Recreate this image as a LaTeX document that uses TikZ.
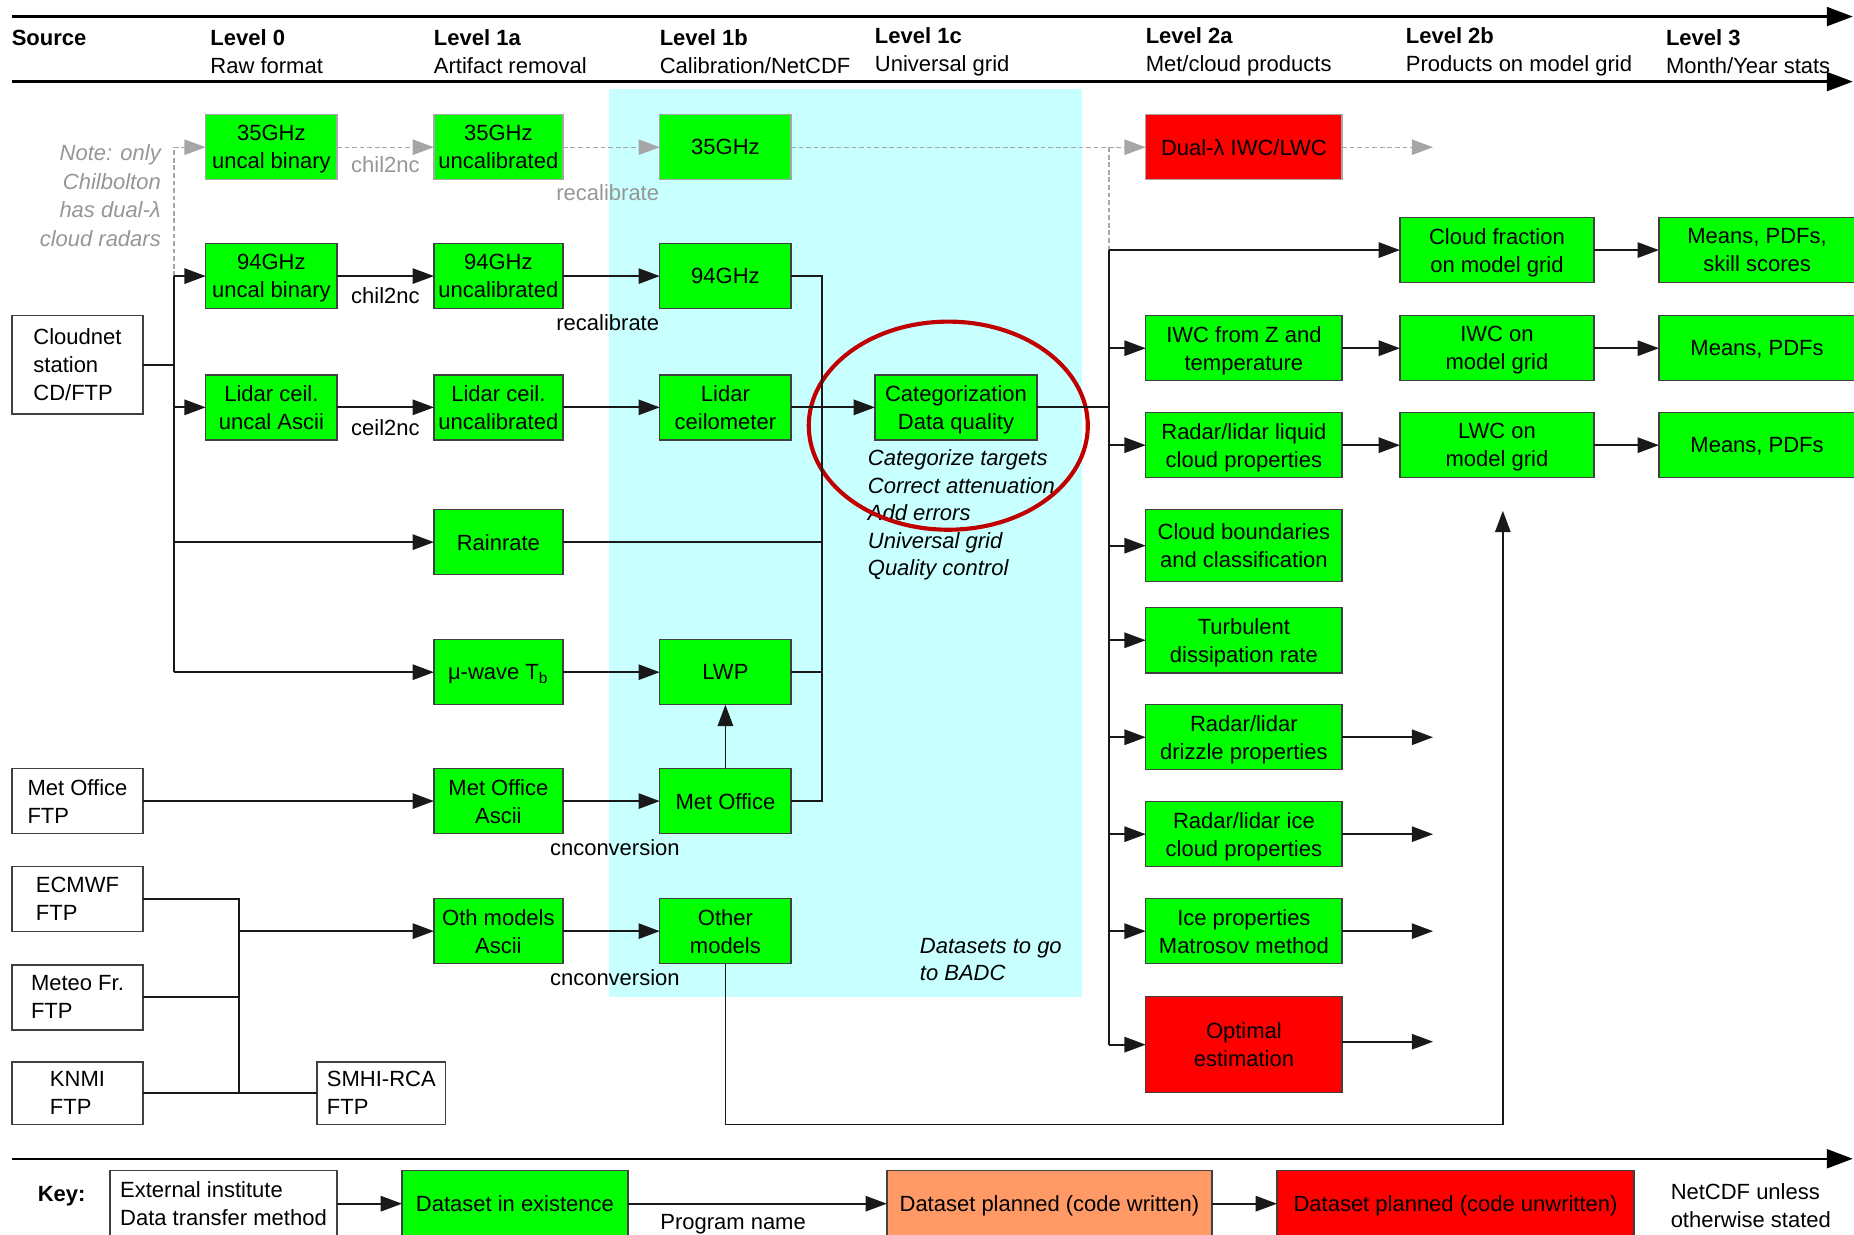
\documentclass[tikz,border=0pt]{standalone}
\usepackage{fontspec}
\setmainfont{Liberation Sans}
\usetikzlibrary{arrows.meta,calc}
\definecolor{bgreen}{RGB}{0,255,0}
\definecolor{bred}{RGB}{255,0,0}
\definecolor{borange}{RGB}{255,153,102}
\definecolor{cyanbg}{RGB}{200,255,255}
\definecolor{ellred}{RGB}{192,0,0}
\definecolor{notegray}{RGB}{150,150,150}
\newcommand\mybox[6]{\node[#1, minimum width=(#5-#3)*0.5pt, minimum height=(#6-#4)*0.5pt] (#2) at ({(#3+#5)/2},{(#4+#6)/2})}
\begin{document}
\begin{tikzpicture}[x=0.5pt,y=-0.5pt,
  every node/.style={font=\fontsize{9.3}{11.8}\selectfont, inner sep=0pt, outer sep=0pt},
  box/.style={draw=black!75, line width=0.6pt, align=center, text depth=0pt},
  gbox/.style={box, fill=bgreen},
  ggbox/.style={box, fill=bgreen, draw=black!35},
  rbox/.style={box, fill=bred},
  grbox/.style={box, fill=bred, draw=black!35},
  obox/.style={box, fill=borange},
  wbox/.style={box, fill=white, align=left},
  ln/.style={line width=0.75pt, draw=black!90},
  arr/.style={ln, -{Triangle[length=9pt,width=6.5pt]}},
  gln/.style={line width=0.6pt, draw=black!35, dash pattern=on 2pt off 1.2pt},
  garr/.style={gln, -{Triangle[length=9pt,width=6.5pt]}},
  hline/.style={line width=1pt, -{Triangle[length=11pt,width=8pt]}},
  glbl/.style={text=notegray},
  hdr/.style={anchor=west, align=left},
]
\useasboundingbox (0,0) rectangle (1568,1044);
\clip (0,0) rectangle (1568,1044);

% background region
\fill[cyanbg] (515,75) rectangle (915,843);

% header
\coordinate (h1s) at (10,14);  \coordinate (h1e) at (1567,14);
\coordinate (h2s) at (10,69);  \coordinate (h2e) at (1567,69);
\coordinate (h3s) at (10,980); \coordinate (h3e) at (1567,980);
\draw[hline] (h1s) -- (h1e);
\draw[hline] (h2s) -- (h2e);
\draw[hline] (h3s) -- (h3e);

\node[hdr] (hsrc) at (10,32) {\textbf{Source}};
\node[hdr] (hl0) at (178,43.5) {\textbf{Level 0}\\Raw format};
\node[hdr] (hl1a) at (367,43.5) {\textbf{Level 1a}\\Artifact removal};
\node[hdr] (hl1b) at (558,43.5) {\textbf{Level 1b}\\Calibration/NetCDF};
\node[hdr] (hl1c) at (740,43.5) {\textbf{Level 1c}\\Universal grid};
\node[hdr] (hl2a) at (969,43.5) {\textbf{Level 2a}\\Met/cloud products};
\node[hdr] (hl2b) at (1189,43.5) {\textbf{Level 2b}\\Products on model grid};
\node[hdr] (hl3) at (1409,43.5) {\textbf{Level 3}\\Month/Year stats};

% sources
\mybox{wbox}{cloudnet}{10}{267}{121}{350} {Cloudnet\\station\\CD/FTP};
\mybox{wbox}{mofp}{10}{650}{121}{705} {Met Office\\FTP};
\mybox{wbox}{ecmwf}{10}{733}{121}{788} {ECMWF\\FTP};
\mybox{wbox}{meteo}{10}{816}{121}{871} {Meteo Fr.\\FTP};
\mybox{wbox}{knmi}{10}{898}{121}{951} {KNMI\\FTP};
\mybox{wbox}{smhi}{268}{898}{377}{951} {SMHI-RCA\\FTP};

% level 0 / 1a / 1b
\mybox{ggbox}{a35}{174}{97}{285}{152} {35GHz\\uncal binary};
\mybox{ggbox}{b35}{367}{97}{476}{152} {35GHz\\uncalibrated};
\mybox{ggbox}{c35}{558}{97}{669}{152} {35GHz};
\mybox{grbox}{dual}{969}{97}{1135}{152} {Dual-λ IWC/LWC};
\mybox{gbox}{a94}{174}{206}{285}{261} {94GHz\\uncal binary};
\mybox{gbox}{b94}{367}{206}{476}{261} {94GHz\\uncalibrated};
\mybox{gbox}{c94}{558}{206}{669}{261} {94GHz};
\mybox{gbox}{aL}{174}{317}{285}{372} {Lidar ceil.\\uncal Ascii};
\mybox{gbox}{bL}{367}{317}{476}{372} {Lidar ceil.\\uncalibrated};
\mybox{gbox}{cL}{558}{317}{669}{372} {Lidar\\ceilometer};
\mybox{gbox}{cat}{740}{317}{877}{372} {Categorization\\Data quality};
\mybox{gbox}{rain}{367}{431}{476}{486} {Rainrate};
\mybox{gbox}{mw}{367}{541}{476}{596} {μ-wave T\textsubscript{b}};
\mybox{gbox}{lwp}{558}{541}{669}{596} {LWP};
\mybox{gbox}{moA}{367}{650}{476}{705} {Met Office\\Ascii};
\mybox{gbox}{mo}{558}{650}{669}{705} {Met Office};
\mybox{gbox}{othA}{367}{760}{476}{815} {Oth models\\Ascii};
\mybox{gbox}{oth}{558}{760}{669}{815} {Other\\models};

% level 2a
\mybox{gbox}{iwcz}{969}{267}{1135}{322} {IWC from Z and\\temperature};
\mybox{gbox}{liq}{969}{349}{1135}{404} {Radar/lidar liquid\\cloud properties};
\mybox{gbox}{cbd}{969}{431}{1135}{492} {Cloud boundaries\\and classification};
\mybox{gbox}{turb}{969}{514}{1135}{569} {Turbulent\\dissipation rate};
\mybox{gbox}{drz}{969}{596}{1135}{651} {Radar/lidar\\drizzle properties};
\mybox{gbox}{ice}{969}{678}{1135}{733} {Radar/lidar ice\\cloud properties};
\mybox{gbox}{mat}{969}{760}{1135}{815} {Ice properties\\Matrosov method};
\mybox{rbox}{opt}{969}{843}{1135}{924} {Optimal\\estimation};

% level 2b / 3
\mybox{gbox}{cf}{1184}{184}{1348}{239} {Cloud fraction\\on model grid};
\mybox{gbox}{iwcm}{1184}{267}{1348}{322} {IWC on\\model grid};
\mybox{gbox}{lwcm}{1184}{349}{1348}{404} {LWC on\\model grid};
\mybox{gbox}{m1}{1403}{184}{1569}{239} {Means, PDFs,\\skill scores};
\mybox{gbox}{m2}{1403}{267}{1569}{322} {Means, PDFs};
\mybox{gbox}{m3}{1403}{349}{1569}{404} {Means, PDFs};

% annotations
\node[anchor=east, align=right, glbl, font=\itshape\fontsize{9.3}{12.15}\selectfont] (note) at (136,165.5) {Note: only\\Chilbolton\\has dual-λ\\cloud radars};
\node[anchor=west, align=left, font=\itshape\fontsize{9.3}{11.65}\selectfont] (catnote) at (734,435.5) {Categorize targets\\Correct attenuation\\Add errors\\Universal grid\\Quality control};
\node[anchor=west, align=left, font=\itshape\fontsize{9.3}{11.65}\selectfont] (badc) at (778,811.5) {Datasets to go\\to BADC};
\draw[ellred, line width=1.75pt] (802,360) ellipse [x radius=59pt, y radius=44pt];

% coordinates for trunks
\coordinate (tA) at (147,0);
\coordinate (tB) at (695,0);
\coordinate (tC) at (938,0);
\coordinate (tD) at (202,0);
\coordinate (dualend) at (1212,124.5);
\coordinate (drzend) at (1212,623.5);
\coordinate (iceend) at (1212,705.5);
\coordinate (matend) at (1212,787.5);
\coordinate (optend) at (1212,881);
\coordinate (omturn) at (1271,951);
\coordinate (omend) at (1271,432);

% Cloudnet station distribution
\draw[ln] (cloudnet.east) -- (cloudnet.east -| tA);
\draw[ln] (a94.west -| tA) -- (mw.west -| tA);
\draw[gln] (a94.west -| tA) -- (a35.west -| tA);
\draw[garr] (a35.west -| tA) -- (a35.west);
\draw[arr] (a94.west -| tA) -- (a94.west);
\draw[arr] (aL.west -| tA) -- (aL.west);
\draw[arr] (rain.west -| tA) -- (rain.west);
\draw[arr] (mw.west -| tA) -- (mw.west);

% 35GHz row
\draw[garr] (a35) -- node[glbl, below=4pt] (l1) {chil2nc} (b35);
\draw[garr] (b35) -- (c35);
\node[glbl] (l2) at (514,163) {recalibrate};
\draw[garr] (c35) -- (dual);
\draw[garr] (dual) -- (dualend);
\draw[gln] (dual.west -| tC) -- (cf.west -| tC);

% 94GHz and lidar rows
\draw[arr] (a94) -- node[below=5pt] (l3) {chil2nc} (b94);
\draw[arr] (b94) -- (c94);
\node (l4) at (514,273) {recalibrate};
\draw[arr] (aL) -- node[below=5pt] (l5) {ceil2nc} (bL);
\draw[arr] (bL) -- (cL);
\draw[arr] (cL) -- (cat);

% collector into categorization
\draw[ln] (c94.east) -- (c94.east -| tB) -- (mo.east -| tB) -- (mo.east);
\draw[ln] (rain.east) -- (rain.east -| tB);
\draw[ln] (lwp.east) -- (lwp.east -| tB);

% LWP / models
\draw[arr] (mw) -- (lwp);
\draw[arr] (mofp) -- (moA);
\draw[arr] (moA) -- (mo);
\node (l6) at (520,717) {cnconversion};
\draw[arr] (mo) -- (lwp);
\draw[ln] (ecmwf.east) -- (ecmwf.east -| tD) -- (knmi.east -| tD);
\draw[ln] (meteo.east) -- (meteo.east -| tD);
\draw[ln] (knmi.east) -- (smhi.west);
\draw[arr] (othA.west -| tD) -- (othA.west);
\draw[arr] (othA) -- (oth);
\node (l7) at (520,827) {cnconversion};
\draw[arr] (oth.south) |- (omturn) -- (omend);

% categorization to level 2
\draw[ln] (cat.east) -- (cat.east -| tC);
\draw[ln] (cf.west -| tC) -- (opt.west -| tC);
\draw[arr] (cf.west -| tC) -- (cf.west);
\draw[arr] (iwcz.west -| tC) -- (iwcz.west);
\draw[arr] (liq.west -| tC) -- (liq.west);
\draw[arr] (cbd.west -| tC) -- (cbd.west);
\draw[arr] (turb.west -| tC) -- (turb.west);
\draw[arr] (drz.west -| tC) -- (drz.west);
\draw[arr] (ice.west -| tC) -- (ice.west);
\draw[arr] (mat.west -| tC) -- (mat.west);
\draw[arr] (opt.west -| tC) -- (opt.west);

\draw[arr] (iwcz) -- (iwcm);
\draw[arr] (liq) -- (lwcm);
\draw[arr] (cf) -- (m1);
\draw[arr] (iwcm) -- (m2);
\draw[arr] (lwcm) -- (m3);
\draw[arr] (drz) -- (drzend);
\draw[arr] (ice) -- (iceend);
\draw[arr] (mat) -- (matend);
\draw[arr] (opt.east |- optend) -- (optend);

% key
\node[anchor=west] (key) at (32,1012) {\textbf{Key:}};
\mybox{wbox}{kext}{93}{990}{285}{1046} {External institute\\Data transfer method};
\mybox{gbox}{kgr}{340}{990}{531}{1046} {Dataset in existence};
\mybox{obox}{kor}{750}{990}{1025}{1046} {Dataset planned (code written)};
\mybox{rbox}{krd}{1080}{990}{1382}{1046} {Dataset planned (code unwritten)};
\draw[arr] (kext) -- (kgr);
\draw[arr] (kgr) -- (kor);
\node (kprog) at (620,1035) {Program name};
\draw[arr] (kor) -- (krd);
\node[anchor=west, align=left] (knet) at (1413,1020) {NetCDF unless\\otherwise stated};
\end{tikzpicture}
\end{document}
